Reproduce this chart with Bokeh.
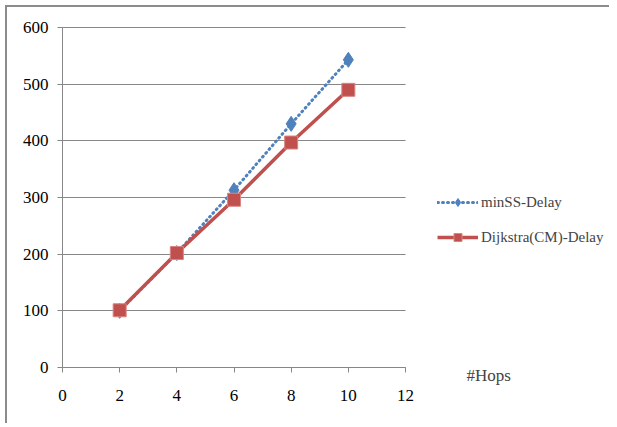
from bokeh.plotting import figure
from bokeh.models import Range1d, FixedTicker, Legend, LegendItem, Label
from bokeh.embed import file_html
from bokeh.resources import INLINE

hops = [2, 4, 6, 8, 10]
minss_delay = [100, 202, 313, 430, 543]
dijkstra_delay = [101, 202, 296, 397, 490]
x_ticks = [0, 2, 4, 6, 8, 10, 12]
y_ticks = [0, 100, 200, 300, 400, 500, 600]

FONT = "Liberation Serif"
GRAY = "#878787"
BLUE = "#4F81BD"
RED = "#C0504D"

# layout (pixels): the frame fills the whole canvas; axes drawn at fixed locations
FRAME_W, FRAME_H = 604, 418
PX_X = 343 / 12.0      # px per x unit
PX_Y = 340 / 600.0     # px per y unit
LEFT_PAD, TOP_PAD = 55, 20   # px from canvas edge to the axes origin / top
x_start = -LEFT_PAD / PX_X
x_end = (FRAME_W - LEFT_PAD) / PX_X
y_end = 600 + TOP_PAD / PX_Y
y_start = y_end - FRAME_H / PX_Y

p = figure(width=FRAME_W, height=FRAME_H, output_backend="svg", toolbar_location=None,
           x_range=Range1d(x_start, x_end), y_range=Range1d(y_start, y_end),
           min_border_left=0, min_border_right=0, min_border_top=0, min_border_bottom=0,
           styles={"border-left": "2px solid #8c8c8c", "border-top": "2px solid #8c8c8c",
                   "margin-left": "5px", "margin-top": "5px"})
p.outline_line_color = None
p.background_fill_color = "white"
p.border_fill_color = "white"

p.xgrid.grid_line_color = None
p.ygrid.grid_line_color = GRAY
p.ygrid.grid_line_width = 1
p.ygrid.ticker = FixedTicker(ticks=y_ticks)
p.ygrid.bounds = (0, 600)
p.ygrid.cross_bounds = (0, 12)

p.xaxis.ticker = FixedTicker(ticks=x_ticks)
p.yaxis.ticker = FixedTicker(ticks=y_ticks)
p.xaxis.bounds = (0, 12)
p.yaxis.bounds = (0, 600)
p.xaxis.fixed_location = 0
p.yaxis.fixed_location = 0
for ax in (p.xaxis[0], p.yaxis[0]):
    ax.axis_line_color = GRAY
    ax.major_tick_line_color = GRAY
    ax.major_tick_out = 5
    ax.major_tick_in = 0
    ax.minor_tick_line_color = None
    ax.major_label_text_font = FONT
    ax.major_label_text_font_size = "17px"
    ax.major_label_text_color = "black"
p.xaxis.major_label_standoff = 17
p.yaxis.major_label_standoff = 9

l1 = p.line(hops, minss_delay, line_color=BLUE, line_width=3, line_dash="1 4", line_cap="round")
m1 = p.scatter(hops, minss_delay, marker="diamond", size=15, fill_color=BLUE, line_color=BLUE)
l2 = p.line(hops, dijkstra_delay, line_color=RED, line_width=3.5)
m2 = p.scatter(hops, dijkstra_delay, marker="square", size=13, fill_color=RED, line_color="#D98583", line_width=1)

legend = Legend(items=[LegendItem(label="minSS-Delay", renderers=[l1, m1]),
                       LegendItem(label="Dijkstra(CM)-Delay", renderers=[l2, m2])],
                location=(430, 178), padding=0, margin=0, spacing=15,
                glyph_width=41, glyph_height=20, label_standoff=3,
                label_text_font=FONT, label_text_font_size="15px",
                border_line_color=None, background_fill_alpha=0)
p.add_layout(legend, "center")

hops_label = Label(x=14.13, y=-14, text="#Hops", text_font=FONT, text_font_size="17px",
                   text_baseline="middle", text_align="left")
p.add_layout(hops_label)

open("out.html", "w").write(file_html(p, INLINE))
